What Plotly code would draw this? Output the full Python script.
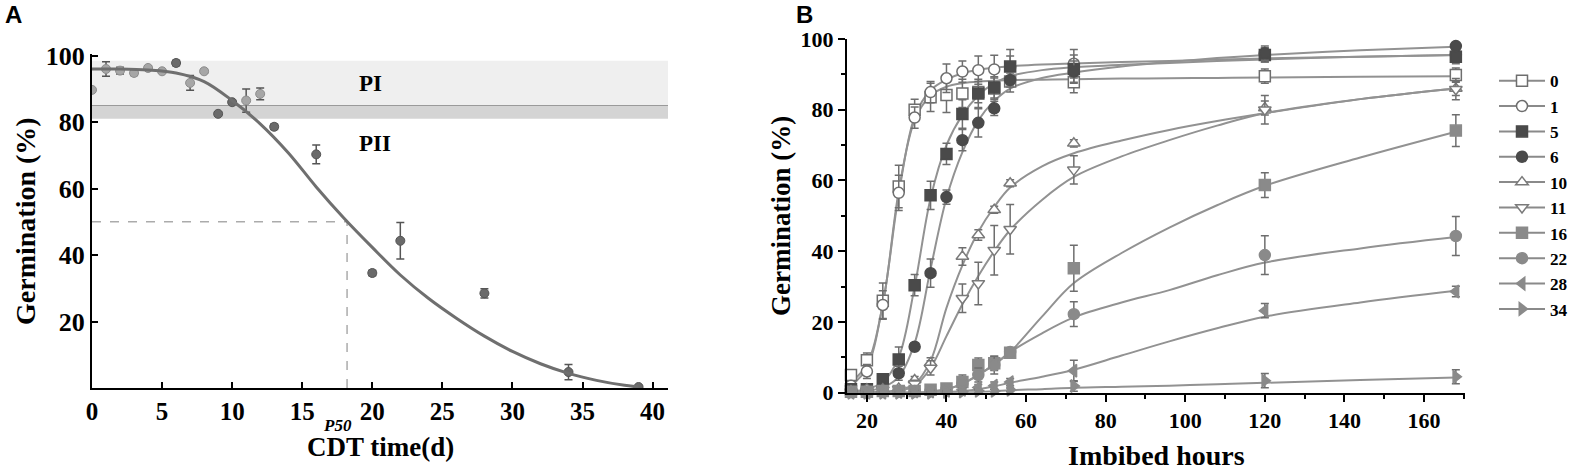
import plotly.graph_objects as go

# ---------------- panel A data ----------------
cdt_days = [0, 1, 2, 3, 4, 5, 6, 7, 8, 9, 10, 11, 12, 13, 16, 20, 22, 28, 34, 39]
cdt_germ = [89.7, 96, 95.5, 94.8, 96.3, 95.3, 97.8, 91.8, 95.3, 82.5, 86, 86.5, 88.5,
            78.6, 70.3, 34.6, 44.3, 28.5, 4.8, 0.3]
cdt_err = [0, 2.2, 1, 0.8, 0.6, 0.5, 0.8, 2.2, 0.6, 0.6, 0.5, 3.5, 1.8, 0.8, 2.8, 0.8,
           5.5, 1.4, 2.3, 0.3]
cdt_dark = [False, False, False, False, False, False, True, False, False, True, True,
            False, False, True, True, True, True, True, True, True]

fit_days = [0, 2, 4, 6, 8, 10, 12, 14, 16, 18, 20, 22, 24, 26, 28, 30, 32, 34, 36, 38, 39]
fit_germ = [96, 96, 95.7, 94.8, 92.2, 86.5, 79.5, 70.8, 60.5, 51, 42.3, 34, 27, 21,
            15.6, 11, 7.3, 4.4, 2.3, 0.8, 0.3]

p50 = 18.2
band_pi = [85, 98.5]
band_pii = [81, 85]

# ---------------- panel B data ----------------
hours = [16, 20, 24, 28, 32, 36, 40, 44, 48, 52, 56, 72, 120, 168]
labels = ["0", "1", "5", "6", "10", "11", "16", "22", "28", "34"]

germ = {
    "0": [5, 9.2, 26, 58.3, 80, 83.5, 84.2, 84.6, 85, 86, 88, 87.8, 89.5, 89.8],
    "1": [2, 6, 24.8, 56.5, 77.8, 85, 88.9, 90.8, 91.2, 91.4, 92, 93, 95.5, 95.5],
    "5": [1, 1, 3.8, 9.4, 30.4, 55.8, 67.5, 78.8, 84.6, 86.3, 92.2, 91.5, 95.5, 95],
    "6": [0.5, 1, 1.5, 5.5, 13, 33.8, 55.3, 71.4, 76.3, 80.4, 88.4, 90.8, 96, 98],
    "10": [0.5, 1, 1, 1.2, 3.6, 8.4, None, 38.5, 44.6, 51.7, 59.2, 70.5, 80.5, 86],
    "11": [0.3, 0.5, 0.8, 1, 2.5, 7, None, 26.7, 30.9, 40.3, 46.2, 63, 80, 85.8],
    "16": [0.3, 0.3, 0.5, 0.5, 0.5, 0.8, 1.2, 3, 7.8, 8.3, 11.3, 35.2, 58.7, 74.1],
    "22": [0.2, 0.3, 0.3, 0.4, 0.5, 0.5, 1, 2.5, 5, 7.8, 11.5, 22.2, 38.9, 44.3],
    "28": [0, 0, 0, 0.2, 0.3, 0.3, 0.5, 0.8, 1.5, 2, 3, 6.2, 23.2, 28.6],
    "34": [0, 0, 0, 0, 0, 0, 0.2, 0.3, 0.5, 0.5, 0.8, 1.9, 3.4, 4.5],
}
err = {
    "0": [1.5, 2, 5, 6, 3, 4, 5, 4, 3, 3, 3, 3, 2, 2],
    "1": [1, 2, 4, 5, 3, 3, 4, 3, 4, 4, 5, 4, 2, 2],
    "5": [0.5, 0.5, 1, 3.5, 3, 4, 3, 4, 4, 3, 3, 4, 2, 2],
    "6": [0.5, 0.5, 0.5, 2, 1, 4, 2, 3, 4, 2, 2, 3, 2, 1],
    "10": [0.3, 0.3, 0.3, 0.5, 1, 1.5, None, 2.5, 1.5, 1, 1, 1, 2, 2],
    "11": [0.3, 0.3, 0.3, 0.5, 1, 2, None, 4, 6, 7, 7, 4, 4, 3],
    "16": [0.3, 0.3, 0.3, 0.3, 0.3, 0.3, 0.5, 2, 2, 2, 1, 6.5, 3.5, 4.5],
    "22": [0.3, 0.3, 0.3, 0.3, 0.3, 0.3, 0.5, 1, 2, 2.5, 1, 3.5, 5.5, 5.5],
    "28": [0.3, 0.3, 0.3, 0.3, 0.3, 0.3, 0.3, 0.5, 0.8, 1, 1, 3, 2, 1.5],
    "34": [0.2, 0.2, 0.2, 0.2, 0.2, 0.2, 0.3, 0.3, 0.5, 0.5, 0.5, 1.5, 2, 2],
}

fit_hours = [16, 20, 24, 28, 32, 36, 40, 44, 48, 52, 56, 64, 72, 84, 96, 108, 120, 144, 168]
fit = {
    "0": [3, 8, 25, 57, 77, 84, 86.5, 87.5, 88, 88.2, 88.4, 88.5, 88.6, 88.8, 88.9, 89,
          89.1, 89.3, 89.5],
    "1": [2, 7, 25, 56, 78, 85.5, 88.5, 90.3, 91.3, 91.9, 92.3, 92.8, 93.1, 93.5, 93.8,
          94.2, 94.5, 95, 95.5],
    "5": [0.5, 1, 3, 10, 30, 55, 70, 78.5, 84, 87.5, 89.5, 91.2, 92, 92.7, 93.2, 93.8,
          94.2, 95, 95.5],
    "6": [0.2, 0.5, 1.5, 4.5, 14, 35, 55, 68, 77, 82.5, 86, 89, 90.5, 92.2, 93.5, 94.6,
          95.5, 96.8, 97.8],
    "10": [0, 0.1, 0.3, 0.8, 2.5, 9, 24, 36, 45.5, 52.5, 58, 64, 67.7, 71.3, 74.3, 76.8,
           79, 83, 86],
    "11": [0, 0.1, 0.2, 0.5, 2, 7, 16, 25, 33, 40, 46, 54.5, 61, 66.8, 71.4, 75.5, 79,
           83, 86],
    "16": [0, 0, 0, 0, 0, 0.3, 1, 2.5, 5, 8, 11.5, 21.5, 31, 39.5, 46.7, 53, 58.5, 66.5,
           73.8],
    "22": [0, 0, 0, 0, 0, 0.3, 1, 2.5, 5, 8, 11.5, 16.8, 21.3, 25.5, 29, 33.2, 36.8, 40.8,
           44],
    "28": [0, 0, 0, 0, 0, 0, 0.2, 0.5, 1, 1.8, 2.8, 4.5, 6.5, 10.5, 14.5, 18.2, 21.5,
           25.5, 28.8],
    "34": [0, 0, 0, 0, 0, 0, 0, 0, 0.2, 0.4, 0.7, 1, 1.4, 1.7, 2, 2.4, 2.8, 3.6, 4.3],
}

symbols = {"0": "square", "1": "circle", "5": "square", "6": "circle",
           "10": "triangle-up", "11": "triangle-down", "16": "square", "22": "circle",
           "28": "triangle-left", "34": "triangle-right"}
fills = {"0": "white", "1": "white", "5": "#4a4a4a", "6": "#4a4a4a",
         "10": "white", "11": "white", "16": "#8a8a8a", "22": "#8a8a8a",
         "28": "#8a8a8a", "34": "#8a8a8a"}
edges = {"0": "#6e6e6e", "1": "#6e6e6e", "5": "#4a4a4a", "6": "#4a4a4a",
         "10": "#7a7a7a", "11": "#7a7a7a", "16": "#8a8a8a", "22": "#8a8a8a",
         "28": "#8a8a8a", "34": "#8a8a8a"}

SERIF = "Liberation Serif, Times New Roman, serif"
W, H = 1571, 470

fig = go.Figure()

# panel A
fig.add_trace(go.Scatter(
    x=cdt_days, y=cdt_germ, mode="markers", xaxis="x", yaxis="y", showlegend=False,
    marker=dict(size=9, symbol="circle",
                color=["#6a6a6a" if d else "#a6a6a6" for d in cdt_dark],
                line=dict(width=1, color=["#555555" if d else "#8c8c8c" for d in cdt_dark])),
    error_y=dict(type="data", array=cdt_err, color="#555555", thickness=1.5, width=4),
))
fig.add_trace(go.Scatter(
    x=fit_days, y=fit_germ, mode="lines", xaxis="x", yaxis="y", showlegend=False,
    line=dict(color="#6f6f6f", width=3, shape="spline", smoothing=1),
))

# panel B
for lab in labels:
    fig.add_trace(go.Scatter(
        x=fit_hours, y=fit[lab], mode="lines", xaxis="x2", yaxis="y2", showlegend=False,
        line=dict(color="#929292", width=2, shape="spline", smoothing=1),
    ))
for lab in labels:
    fig.add_trace(go.Scatter(
        x=hours, y=germ[lab], mode="markers", xaxis="x2", yaxis="y2", showlegend=False,
        cliponaxis=False,
        marker=dict(size=11, symbol=symbols[lab], color=fills[lab],
                    line=dict(width=1.5, color=edges[lab])),
        error_y=dict(type="data", array=err[lab], color="#6e6e6e", thickness=1.5, width=4),
    ))
    # legend entry
    fig.add_trace(go.Scatter(
        x=[None], y=[None], mode="lines+markers", xaxis="x2", yaxis="y2", name=lab,
        line=dict(color="#8a8a8a", width=2),
        marker=dict(size=11, symbol=symbols[lab], color=fills[lab],
                    line=dict(width=1.5, color=edges[lab])),
    ))

shapes = [
    dict(type="rect", xref="x domain", yref="y", x0=0, x1=1, y0=band_pi[0], y1=band_pi[1],
         fillcolor="#efefef", line_width=0, layer="below"),
    dict(type="rect", xref="x domain", yref="y", x0=0, x1=1, y0=band_pii[0], y1=band_pii[1],
         fillcolor="#d4d4d4", line_width=0, layer="below"),
    dict(type="line", xref="x domain", yref="y", x0=0, x1=1, y0=band_pi[0], y1=band_pi[0],
         line=dict(color="#9a9a9a", width=1.2), layer="below"),
    dict(type="line", xref="x", yref="y", x0=0, x1=p50, y0=50, y1=50,
         line=dict(color="#ababab", width=1.5, dash="dash"), layer="below"),
    dict(type="line", xref="x", yref="y", x0=p50, x1=p50, y0=0, y1=50,
         line=dict(color="#ababab", width=1.5, dash="dash"), layer="below"),
]


def note(text, x, y, size, xref="paper", yref="paper", family=SERIF, **kw):
    return dict(text=text, xref=xref, yref=yref, x=x, y=y, showarrow=False,
                xanchor=kw.pop("xanchor", "center"), yanchor="middle",
                font=dict(family=family, size=size, color="black"), **kw)


annotations = [
    note("<b>A</b>", 3 / W, 1 - 15 / H, 24, family="Liberation Sans, Arial",
         xanchor="left"),
    note("<b>B</b>", 794 / W, 1 - 15 / H, 24, family="Liberation Sans, Arial",
         xanchor="left"),
    note("<b>PI</b>", 19.9, 91.5, 23, xref="x", yref="y"),
    note("<b>PII</b>", 20.2, 73.5, 23, xref="x", yref="y"),
    note("<b><i>P50</i></b>", p50, 1 - 425 / H, 17, xref="x", xshift=-10),
    note("<b>Germination (%)</b>", 25 / W, 1 - 221 / H, 28, textangle=-90),
    note("<b>CDT time(d)</b>", 380 / W, 1 - 447 / H, 27),
    note("<b>Germination (%)</b>", 781 / W, 1 - 216 / H, 27, textangle=-90),
    note("<b>Imbibed hours</b>", 1156 / W, 1 - 455 / H, 28),
]

axis_common = dict(showline=True, linecolor="black", linewidth=2, showgrid=False,
                   zeroline=False, tickcolor="black", tickwidth=2, automargin=False)

fig.update_layout(
    width=W, height=H, margin=dict(l=0, r=0, t=0, b=0, pad=0, autoexpand=False),
    plot_bgcolor="white", paper_bgcolor="white",
    font=dict(family=SERIF, color="black"),
    xaxis=dict(domain=[92 / W, 668 / W], range=[0, 41.1], tickvals=list(range(0, 41, 5)),
               ticks="inside", ticklen=6, anchor="y",
               tickfont=dict(family=SERIF, size=25, weight="bold"), **axis_common),
    yaxis=dict(domain=[1 - 388 / H, 1 - 54 / H], range=[0, 100.5],
               tickvals=[20, 40, 60, 80, 100], ticks="inside", ticklen=6, anchor="x",
               tickfont=dict(family=SERIF, size=26, weight="bold"), **axis_common),
    xaxis2=dict(domain=[847 / W, 1465 / W], range=[15, 170.3], tick0=20, dtick=20,
                ticks="outside", ticklen=7, anchor="y2",
                minor=dict(dtick=10, tick0=10, ticks="outside", ticklen=4, tickwidth=2,
                           tickcolor="black"),
                tickfont=dict(family=SERIF, size=22, weight="bold"), **axis_common),
    yaxis2=dict(domain=[1 - 392.7 / H, 1 - 39 / H], range=[0, 100], dtick=20,
                ticks="outside", ticklen=7, anchor="x2",
                minor=dict(dtick=10, ticks="outside", ticklen=4, tickwidth=2,
                           tickcolor="black"),
                tickfont=dict(family=SERIF, size=22, weight="bold"), **axis_common),
    legend=dict(x=1494 / W, y=1 - 63 / H, xanchor="left", yanchor="top",
                bgcolor="rgba(0,0,0,0)", tracegroupgap=0, itemwidth=46,
                font=dict(family=SERIF, size=17.2, weight="bold", color="black")),
    shapes=shapes, annotations=annotations,
)

fig.write_html(
    "out.html",
    config={"displayModeBar": False},
    post_script="document.body.style.margin='0';document.body.style.overflow='hidden';",
)
